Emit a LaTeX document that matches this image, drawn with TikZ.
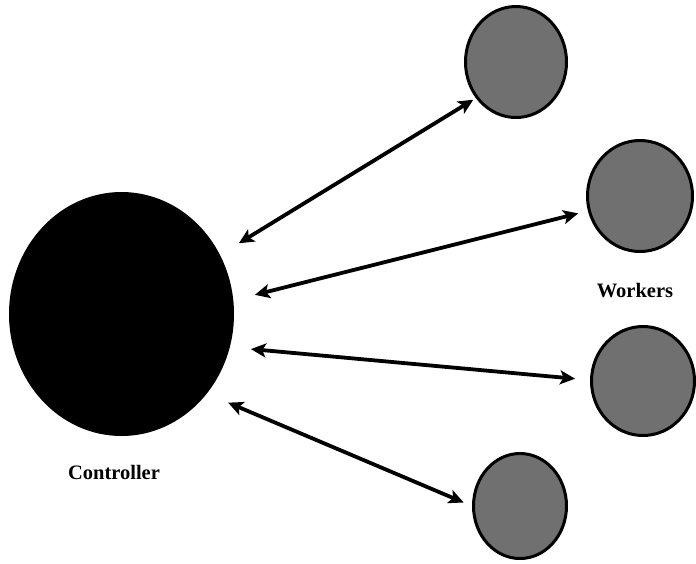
\documentclass[tikz,border=0pt]{standalone}
\usepackage{fontspec}
\setmainfont{Liberation Serif}
\usetikzlibrary{arrows.meta,shapes.geometric}
\tikzset{
  ctrlblob/.style={ellipse, fill=black, inner sep=0pt, minimum width=225pt, minimum height=244pt},
  workerblob/.style={ellipse, draw=black, line width=3pt, fill=black!56, inner sep=0pt},
  link/.style={line width=3.8pt, {Stealth[length=15pt,width=14pt,inset=3.5pt]}-{Stealth[length=15pt,width=14pt,inset=3.5pt]}},
  lbl/.style={font=\bfseries\fontsize{20.5}{24}\selectfont, inner sep=0pt}
}
\begin{document}
\begin{tikzpicture}[x=1pt,y=-1pt]
\useasboundingbox (0,0) rectangle (696,563);
\node[ctrlblob] (ctrl) at (121.5,314) {};
\node[workerblob, minimum width=101pt, minimum height=111pt] (w1) at (516,62) {};
\node[workerblob, minimum width=105pt, minimum height=111pt] (w2) at (640,196) {};
\node[workerblob, minimum width=103pt, minimum height=109pt] (w3) at (643,381) {};
\node[workerblob, minimum width=93pt, minimum height=105pt] (w4) at (520,506) {};
\node[lbl] (wlab) at (635,291) {Workers};
\node[lbl] (clab) at (114,472) {Controller};
\draw[link, shorten <=22pt, shorten >=3pt] (ctrl.31.7) -- (w1.222);
\draw[link, shorten <=22pt, shorten >=10pt] (ctrl.7.8) -- (w2.196);
\draw[link, shorten <=21pt, shorten >=15pt] (ctrl.343.5) -- (w3.179.4);
\draw[link, shorten <=23pt, shorten >=9pt] (ctrl.317) -- (w4.180);
\end{tikzpicture}
\end{document}
